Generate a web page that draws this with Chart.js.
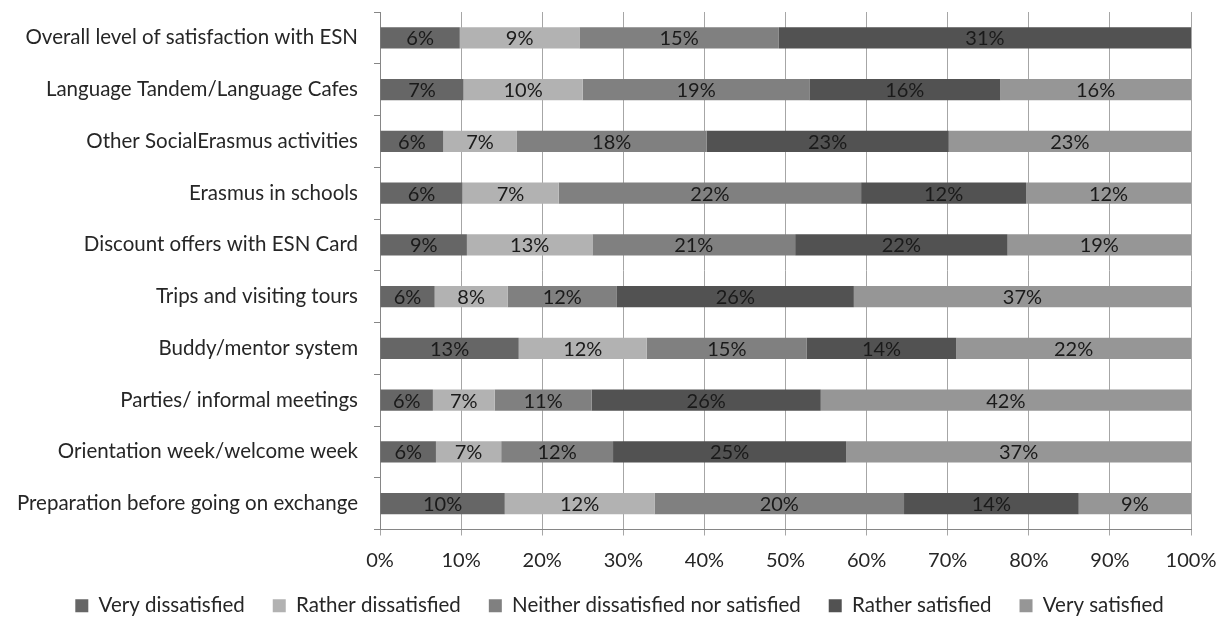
<!DOCTYPE html>
<html>
<head>
<meta charset="utf-8">
<script src="https://cdn.jsdelivr.net/npm/chart.js@4"></script>
<style>
  html, body { margin: 0; padding: 0; background: #fff; }
  #wrap { width: 1224px; height: 621px; }
</style>
</head>
<body>
<div id="wrap"><canvas id="c" width="1224" height="621"></canvas></div>
<script>
const categories = [
  "Overall level of satisfaction with ESN",
  "Language Tandem/Language Cafes",
  "Other SocialErasmus activities",
  "Erasmus in schools",
  "Discount offers with ESN Card",
  "Trips and visiting tours",
  "Buddy/mentor system",
  "Parties/ informal meetings",
  "Orientation week/welcome week",
  "Preparation before going on exchange"
];
const seriesNames = ["Very dissatisfied", "Rather dissatisfied", "Neither dissatisfied nor satisfied", "Rather satisfied", "Very satisfied"];
const veryDissatisfied   = [6, 7, 6, 6, 9, 6, 13, 6, 6, 10];
const ratherDissatisfied = [9, 10, 7, 7, 13, 8, 12, 7, 7, 12];
const neither            = [15, 19, 18, 22, 21, 12, 15, 11, 12, 20];
const ratherSatisfied    = [31, 16, 23, 12, 22, 26, 14, 26, 25, 14];
const verySatisfied      = [0, 16, 23, 12, 19, 37, 22, 42, 37, 9];
const xTickLabels = ["0%", "10%", "20%", "30%", "40%", "50%", "60%", "70%", "80%", "90%", "100%"];

const seriesColors = ["#666666", "#b2b2b2", "#808080", "#525252", "#969696"];
const raw = [veryDissatisfied, ratherDissatisfied, neither, ratherSatisfied, verySatisfied];
const totals = categories.map((_, i) => raw.reduce((s, arr) => s + arr[i], 0));

const FONT = "Lato, 'Open Sans', sans-serif";

const labelPlugin = {
  id: 'segLabels',
  afterLayout(chart) {
    if (chart.legend) { chart.legend.left += 24; chart.legend.right += 24; }
  },
  afterDatasetsDraw(chart) {
    const ctx = chart.ctx;
    ctx.save();
    ctx.font = "20px " + FONT;
    ctx.fillStyle = "#1a1a1a";
    ctx.textAlign = "center";
    ctx.textBaseline = "middle";
    chart.data.datasets.forEach((ds, di) => {
      const meta = chart.getDatasetMeta(di);
      meta.data.forEach((el, i) => {
        const v = ds.rawValues[i];
        if (!v) return;
        ctx.fillText(v + "%", (el.x + el.base) / 2, el.y + 1);
      });
    });
    ctx.restore();
  }
};

new Chart(document.getElementById('c'), {
  type: 'bar',
  data: {
    labels: categories,
    datasets: raw.map((arr, k) => ({
      label: seriesNames[k],
      data: arr.map((v, i) => v / totals[i] * 100),
      rawValues: arr,
      backgroundColor: seriesColors[k],
      borderWidth: 0,
      barPercentage: 0.41,
      categoryPercentage: 1
    }))
  },
  options: {
    indexAxis: 'y',
    responsive: false,
    animation: false,
    devicePixelRatio: 1,
    layout: { padding: { top: 12, right: 33, left: 0, bottom: -5 } },
    scales: {
      x: {
        stacked: true,
        min: 0, max: 100,
        ticks: {
          stepSize: 10,
          color: "#262626",
          font: { family: FONT, size: 20 },
          padding: 13,
          callback: (v, i) => xTickLabels[i]
        },
        grid: { color: "#a6a6a6", tickLength: 6, drawTicks: true },
        border: { color: "#868686" },
        afterFit(s) { s.height = 38; s.paddingRight = 0; s.paddingLeft = 0; }
      },
      y: {
        stacked: true,
        ticks: {
          color: "#262626",
          font: { family: FONT, size: 20.5 },
          padding: 16
        },
        grid: { drawOnChartArea: false, color: "#868686", tickLength: 6, offset: true },
        border: { color: "#868686" },
        afterFit(s) { s.width = 380; s.paddingTop = 0; s.paddingBottom = 0; }
      }
    },
    plugins: {
      legend: {
        position: 'bottom',
        labels: {
          color: "#262626",
          font: { family: FONT, size: 20.5 },
          boxWidth: 13,
          boxHeight: 13,
          padding: 28
        }
      },
      tooltip: { enabled: false }
    }
  },
  plugins: [labelPlugin]
});
</script>
</body>
</html>
